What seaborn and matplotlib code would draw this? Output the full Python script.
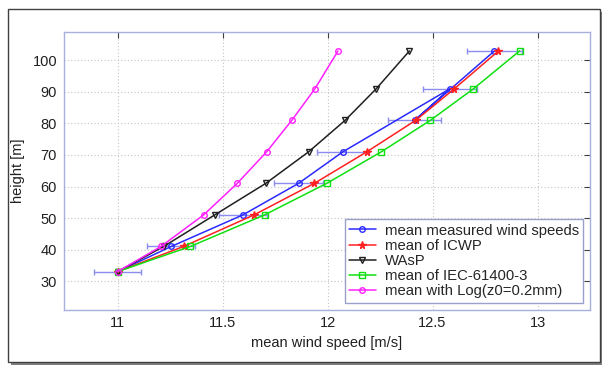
import numpy as np
import pandas as pd
import matplotlib
matplotlib.use("Agg")
import matplotlib.pyplot as plt
from matplotlib.patches import Rectangle
import seaborn as sns

# ---- data ----
heights = [33, 41, 51, 61, 71, 81, 91, 103]
measured = [11.00, 11.256, 11.597, 11.862, 12.073, 12.415, 12.583, 12.795]
measured_err = [0.112, 0.114, 0.115, 0.115, 0.123, 0.126, 0.128, 0.130]
icwp = [11.00, 11.315, 11.650, 11.937, 12.187, 12.420, 12.604, 12.814]
wasp = [11.00, 11.220, 11.463, 11.706, 11.910, 12.084, 12.232, 12.390]
iec = [11.00, 11.347, 11.700, 11.996, 12.256, 12.490, 12.695, 12.915]
logz0 = [11.00, 11.207, 11.410, 11.570, 11.710, 11.830, 11.940, 12.050]
# drawing order of the measured curve (as in the source figure)
measured_order = [0, 1, 2, 3, 4, 6, 5, 7]

labels = ["mean measured wind speeds", "mean of ICWP", "WAsP",
          "mean of IEC-61400-3", "mean with Log(z0=0.2mm)"]
colors = ["#2a2aff", "#ff2020", "#202020", "#10e010", "#ff20ff"]

sns.set_theme(style="white")
plt.rcParams["font.family"] = ["Liberation Sans", "DejaVu Sans"]

fig = plt.figure(figsize=(6.02, 3.65), dpi=100)
# outer frame with shadow
fig.patches.append(Rectangle((11 / 602, 0 / 365), 592 / 602, 353 / 365,
                             transform=fig.transFigure, facecolor="#808080",
                             edgecolor="none", zorder=0))
fig.patches.append(Rectangle((8 / 602, 3 / 365), 592 / 602, 353 / 365,
                             transform=fig.transFigure, facecolor="white",
                             edgecolor="#404040", linewidth=1.0, zorder=0.5))

ax = fig.add_axes([64 / 602, 1 - 309.5 / 365, 526 / 602, 277.5 / 365])
ax.set_zorder(2)

# error bars of measured speeds
ax.errorbar(measured, heights, xerr=measured_err, fmt="none",
            ecolor="#8c8cf0", elinewidth=1.0, capsize=2.5, capthick=1.0, zorder=2)

series = [
    (measured, "o", 4, True, measured_order),
    (icwp, "*", 5.5, False, None),
    (wasp, "v", 4.5, True, None),
    (iec, "s", 4, True, None),
    (logz0, "o", 4, True, None),
]
for (vals, mk, ms, hollow, order), lab, col in zip(series, labels, colors):
    idx = order if order is not None else list(range(len(vals)))
    df = pd.DataFrame({"speed": [vals[i] for i in idx],
                       "height": [heights[i] for i in idx]})
    kw = dict(markerfacecolor="none" if hollow else col,
              markeredgecolor=col, markeredgewidth=1.0)
    sns.lineplot(data=df, x="speed", y="height", sort=False, estimator=None,
                 ax=ax, color=col, marker=mk, markersize=ms, linewidth=1.1,
                 label=lab, zorder=3, **kw)

ax.set_xlim(10.745, 13.25)
ax.set_ylim(21, 109)
ax.set_xticks([11, 11.5, 12, 12.5, 13])
ax.set_xticklabels(["11", "11.5", "12", "12.5", "13"])
ax.set_yticks([30, 40, 50, 60, 70, 80, 90, 100])
ax.grid(True, linestyle=(0, (1, 2)), color="#c4c4c4", linewidth=0.8)
ax.tick_params(direction="in", top=True, right=True, length=4, width=0.8,
               color="#404040", labelsize=10.5, labelcolor="#202020", pad=5)
for s in ax.spines.values():
    s.set_color("#a8b0dc")
    s.set_linewidth(1.0)

ax.set_xlabel("mean wind speed [m/s]", fontsize=10.5, color="#202020", labelpad=4)
ax.set_ylabel("height [m]", fontsize=10.5, color="#202020", labelpad=5)

leg = ax.legend(loc="lower right", fontsize=10.7, frameon=True, fancybox=False,
                framealpha=1, edgecolor="#9aa0c8", handlelength=1.8,
                borderpad=0.3, labelspacing=0.08, handletextpad=0.6,
                borderaxespad=0.45, numpoints=1)
leg.get_frame().set_linewidth(1.0)

fig.savefig("out.png", dpi=100)
